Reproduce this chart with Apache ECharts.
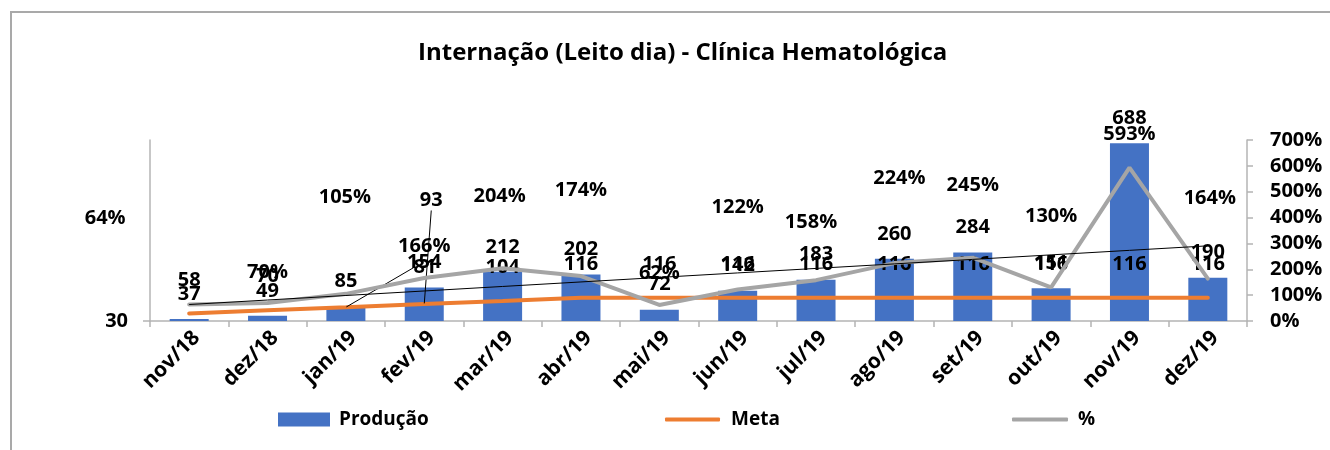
<!DOCTYPE html>
<html>
<head>
<meta charset="utf-8">
<title>Internação (Leito dia) - Clínica Hematológica</title>
<script src="https://cdn.jsdelivr.net/npm/echarts@6/dist/echarts.min.js"></script>
<style>
  html, body { margin: 0; padding: 0; background: #fff; }
  #chart { width: 1330px; height: 450px; }
</style>
</head>
<body>
<div id="chart"></div>
<script>
const months = ['nov/18', 'dez/18', 'jan/19', 'fev/19', 'mar/19', 'abr/19', 'mai/19',
  'jun/19', 'jul/19', 'ago/19', 'set/19', 'out/19', 'nov/19', 'dez/19'];
const producao = [37, 49, 85, 154, 212, 202, 72, 142, 183, 260, 284, 151, 688, 190];
const meta = [58, 70, 81, 93, 104, 116, 116, 116, 116, 116, 116, 116, 116, 116];
const percent = [64, 70, 105, 166, 204, 174, 62, 122, 158, 224, 245, 130, 593, 164];

// manual label placement in the original sheet (pixels, from the point)
const percentLabelShift = [[-84, -86], [0, -31], [-1, -97], [0, -32], [-3, -72], [0, -86], [0, -32],
  [0, -82], [-5, -58], [5, -85], [0, -72], [0, -71], [0, -33], [2, -80]];
const metaLabelShift = { 2: [79, -6], 3: [7, -70] };

// linear trendline of the % series (like Excel's)
function linearTrend(vals) {
  const n = vals.length;
  let sx = 0, sy = 0, sxy = 0, sxx = 0;
  vals.forEach((v, i) => { sx += i; sy += v; sxy += i * v; sxx += i * i; });
  const slope = (n * sxy - sx * sy) / (n * sxx - sx * sx);
  const intercept = (sy - slope * sx) / n;
  return vals.map((v, i) => +(intercept + slope * i).toFixed(2));
}

const FONT = '"Open Sans"';
const labelFont = { fontFamily: FONT, fontWeight: 'bold', fontSize: 20, color: '#000' };
const axisGray = '#b4b4b4';

const chart = echarts.init(document.getElementById('chart'));

chart.setOption({
  animation: false,
  backgroundColor: '#fff',
  graphic: [{
    type: 'rect',
    shape: { x: 11, y: 12, width: 1340, height: 460 },
    style: { fill: 'none', stroke: '#a9a9a9', lineWidth: 2 },
    silent: true
  }],
  title: {
    text: 'Internação (Leito dia) - Clínica Hematológica',
    left: 413,
    top: 36,
    textStyle: { fontFamily: FONT, fontWeight: 'bold', fontSize: 24, color: '#000' }
  },
  legend: [
    {
      data: ['Produção'], left: 273, top: 405, icon: 'rect',
      itemWidth: 52, itemHeight: 14,
      textStyle: { ...labelFont, fontSize: 19, padding: [0, 0, 0, 4] }
    },
    {
      data: ['Meta'], left: 660, top: 405, icon: 'roundRect',
      itemWidth: 55, itemHeight: 4,
      textStyle: { ...labelFont, fontSize: 19, padding: [0, 0, 0, 6] }
    },
    {
      data: ['%'], left: 1007, top: 405, icon: 'roundRect',
      itemWidth: 56, itemHeight: 4,
      textStyle: { ...labelFont, fontSize: 19, padding: [0, 0, 0, 5] }
    }
  ],
  grid: { left: 150, right: 83, top: 140, bottom: 129 },
  xAxis: {
    type: 'category',
    data: months,
    axisLine: { lineStyle: { color: axisGray, width: 1.5 } },
    axisTick: { show: true, length: 6, lineStyle: { color: axisGray, width: 1.5 } },
    axisLabel: { ...labelFont, fontSize: 21, rotate: 45, margin: 6, interval: 0, verticalAlign: 'top' }
  },
  yAxis: [
    {
      type: 'value',
      min: 30,
      max: 700,
      splitLine: { show: false },
      axisLine: { show: true, lineStyle: { color: axisGray, width: 1.5 } },
      axisTick: { show: true, length: 7, customValues: [30], lineStyle: { color: axisGray, width: 1.5 } },
      axisLabel: { ...labelFont, margin: 22, customValues: [30] }
    },
    {
      type: 'value',
      min: 0,
      max: 700,
      interval: 100,
      position: 'right',
      splitLine: { show: false },
      axisLine: { show: true, lineStyle: { color: axisGray, width: 1.5 } },
      axisTick: { show: true, length: 6, lineStyle: { color: axisGray, width: 1.5 } },
      axisLabel: { ...labelFont, margin: 23, formatter: '{value}%' }
    }
  ],
  series: [
    {
      name: 'Produção',
      type: 'bar',
      data: producao,
      barWidth: 39,
      itemStyle: { color: '#4472C4' },
      label: { show: true, position: 'top', distance: 15, ...labelFont },
      z: 2
    },
    {
      name: 'Meta',
      type: 'line',
      data: meta.map((v, i) => metaLabelShift[i]
        ? { value: v, labelLine: { show: true, lineStyle: { color: '#000', width: 1 } } }
        : v),
      symbol: 'circle',
      symbolSize: 1,
      showSymbol: true,
      lineStyle: { color: '#ED7D31', width: 4, cap: 'round' },
      itemStyle: { color: '#ED7D31' },
      label: { show: true, position: 'top', distance: 23, ...labelFont },
      labelLine: { show: false },
      labelLayout: (p) => {
        const s = metaLabelShift[p.dataIndex];
        return s ? { dx: s[0], dy: s[1] } : {};
      },
      z: 3
    },
    {
      name: '%',
      type: 'line',
      yAxisIndex: 1,
      data: percent,
      symbol: 'circle',
      symbolSize: 1,
      showSymbol: true,
      lineStyle: { color: '#A5A5A5', width: 4, cap: 'round' },
      itemStyle: { color: '#A5A5A5' },
      label: { show: true, position: 'inside', ...labelFont, formatter: '{c}%' },
      labelLayout: (p) => {
        const s = percentLabelShift[p.dataIndex];
        return { dx: s[0], dy: s[1] };
      },
      z: 4
    },
    {
      name: 'Tendência',
      type: 'line',
      yAxisIndex: 1,
      data: linearTrend(percent),
      symbol: 'none',
      lineStyle: { color: '#000', width: 1 },
      silent: true,
      z: 5
    }
  ]
});
</script>
</body>
</html>
